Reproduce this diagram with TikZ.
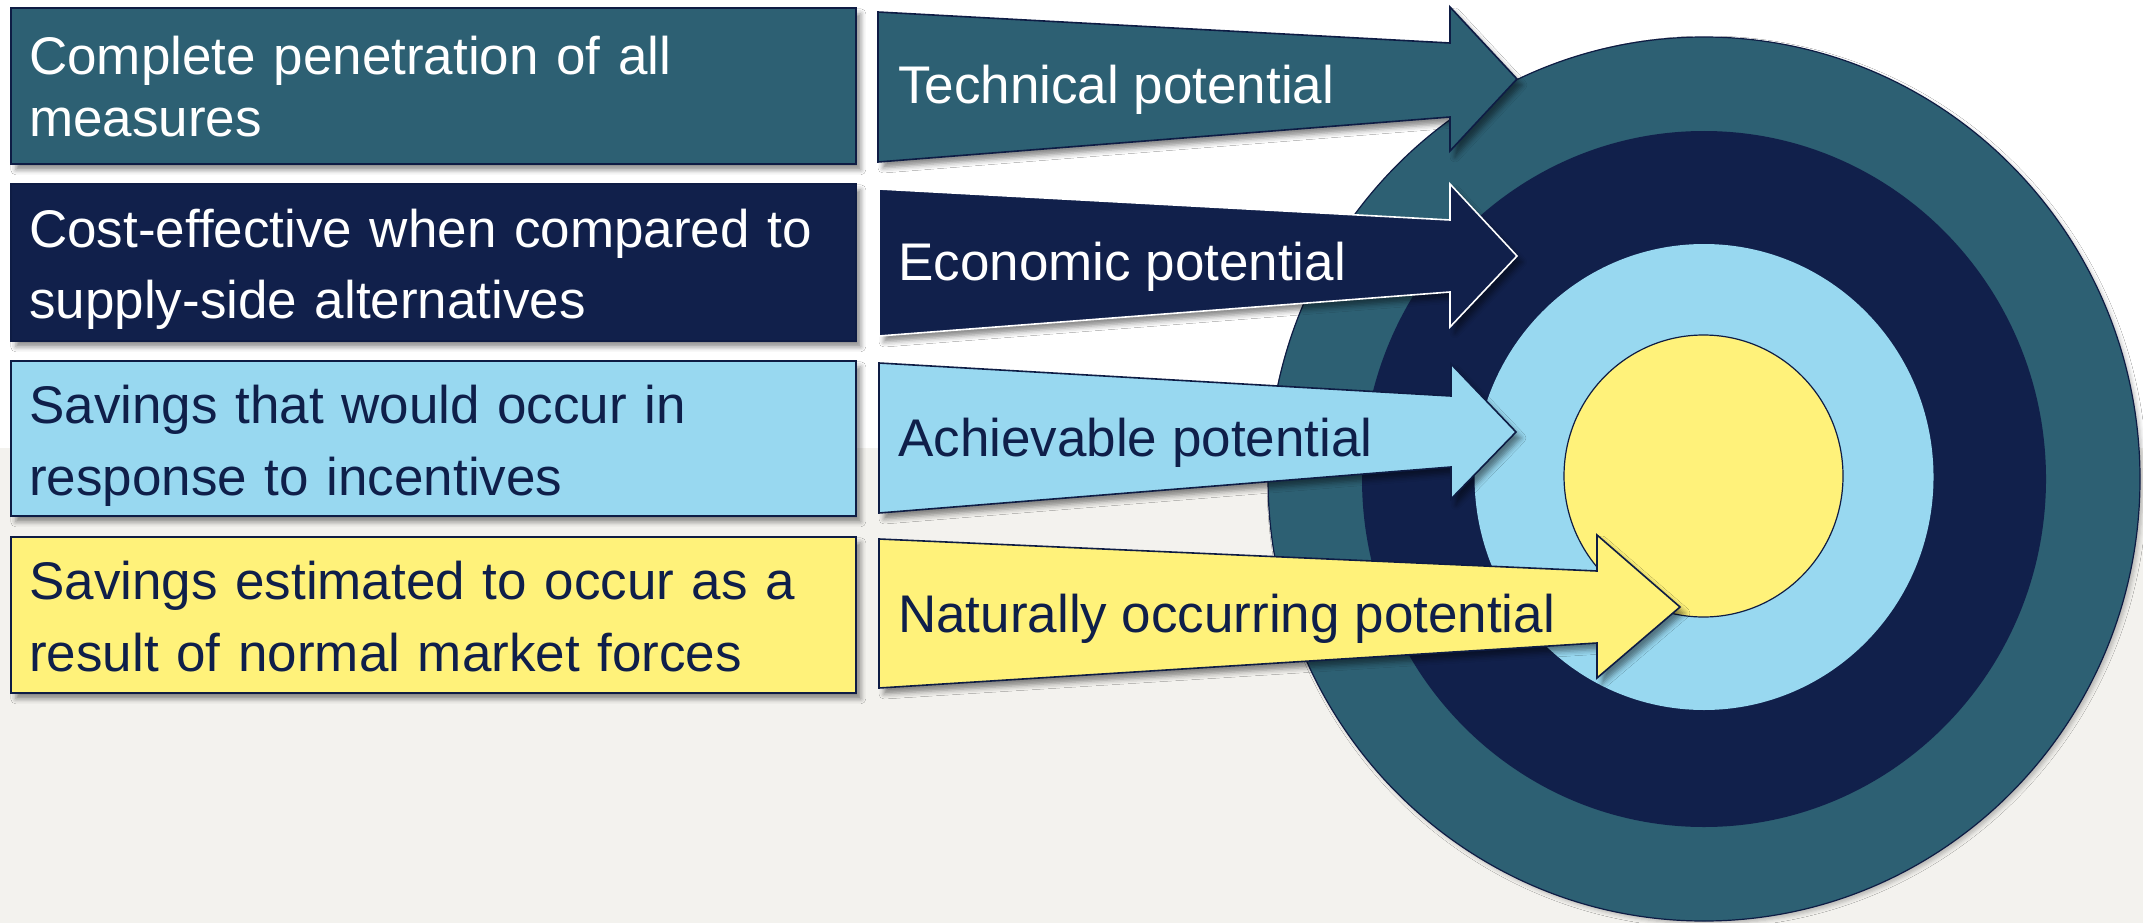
\documentclass[tikz,border=0pt]{standalone}
\usepackage{fontspec}
\setmainfont{Liberation Sans}
\usetikzlibrary{shadows.blur}

\definecolor{tealband}{RGB}{45,96,115}
\definecolor{navyband}{RGB}{17,32,75}
\definecolor{skyband}{RGB}{152,216,240}
\definecolor{sunband}{RGB}{255,242,122}
\definecolor{edgenavy}{RGB}{14,28,68}
\definecolor{inknavy}{RGB}{15,31,74}
\definecolor{floorgray}{RGB}{243,242,238}

\tikzset{
  softshadow/.style={blur shadow={shadow xshift=5pt, shadow yshift=-6pt,
      shadow blur radius=5pt, shadow opacity=45}},
  panel/.style={draw=edgenavy, line width=1.6pt, softshadow,
      minimum width=845pt, inner sep=0pt, anchor=north west},
  blockarrow/.style={draw=edgenavy, line width=1.6pt, line join=miter, softshadow},
  ring/.style={draw=edgenavy, line width=1.2pt},
  bigtype/.style={font=\fontsize{53}{#1}\selectfont},
  boxtxt/.style={anchor=base west, inner sep=0pt, text width=820pt, align=left},
  arrtxt/.style={anchor=base west, inner sep=0pt, bigtype=62},
}

\begin{document}
\begin{tikzpicture}[x=1pt, y=-1pt]
  % backdrop: white upper band, warm grey floor
  \fill[white] (0,0) rectangle (2143,448);
  \fill[floorgray] (0,448) rectangle (2143,923);
  \useasboundingbox (0,0) rectangle (2143,923);

  % target rings
  \draw[ring, fill=tealband, blur shadow={shadow xshift=3pt, shadow yshift=-3pt,
      shadow blur radius=4pt, shadow opacity=25}]
    (1704,479) ellipse [x radius=436pt, y radius=442pt];
  \draw[ring, draw=none, fill=navyband] (1704,479) ellipse [x radius=342pt, y radius=348pt];
  \draw[ring, draw=none, fill=skyband] (1704,477) ellipse [x radius=229.5pt, y radius=233pt];
  \draw[ring, fill=sunband] (1703.5,476) ellipse [x radius=139.5pt, y radius=141pt];

  % definition panels
  \node[panel, fill=tealband, minimum height=156pt] (b1) at (10,7) {};
  \node[panel, fill=navyband, minimum height=157pt] (b2) at (10,183) {};
  \node[panel, fill=skyband,  minimum height=155pt] (b3) at (10,360) {};
  \node[panel, fill=sunband,  minimum height=156pt] (b4) at (10,536) {};

  \node[boxtxt, bigtype=62, text=white] (t1) at (29,75)
    {Complete penetration of all\\measures};
  \node[boxtxt, bigtype=71, text=white] (t2) at (29,247)
    {Cost-effective when compared to\\supply-side alternatives};
  \node[boxtxt, bigtype=72, text=inknavy] (t3) at (29,423)
    {Savings that would occur in\\response to incentives};
  \node[boxtxt, bigtype=72, text=inknavy] (t4) at (29,599)
    {Savings estimated to occur as a\\result of normal market forces};

  % block arrows pointing into the rings
  \path[blockarrow, fill=tealband]
    (878,12) -- (1450,43) -- (1450,7) -- (1517,79) -- (1450,151)
    -- (1450,117) -- (878,162) -- cycle;
  \path[blockarrow, draw=white, fill=navyband]
    (879,189) -- (1450,220) -- (1450,184) -- (1517,256) -- (1450,327)
    -- (1450,292) -- (879,336) -- cycle;
  \path[blockarrow, fill=skyband]
    (879,363) -- (1451,396) -- (1451,364) -- (1516,432) -- (1451,499)
    -- (1451,467) -- (879,513) -- cycle;
  \path[blockarrow, fill=sunband]
    (879,539) -- (1597,571) -- (1597,535) -- (1680,607) -- (1597,678)
    -- (1597,643) -- (879,688) -- cycle;

  \node[arrtxt, text=white]   (p1) at (898,104) {Technical potential};
  \node[arrtxt, text=white]   (p2) at (898,280) {Economic potential};
  \node[arrtxt, text=inknavy] (p3) at (898,456) {Achievable potential};
  \node[arrtxt, text=inknavy] (p4) at (898,632) {Naturally occurring potential};
\end{tikzpicture}
\end{document}
